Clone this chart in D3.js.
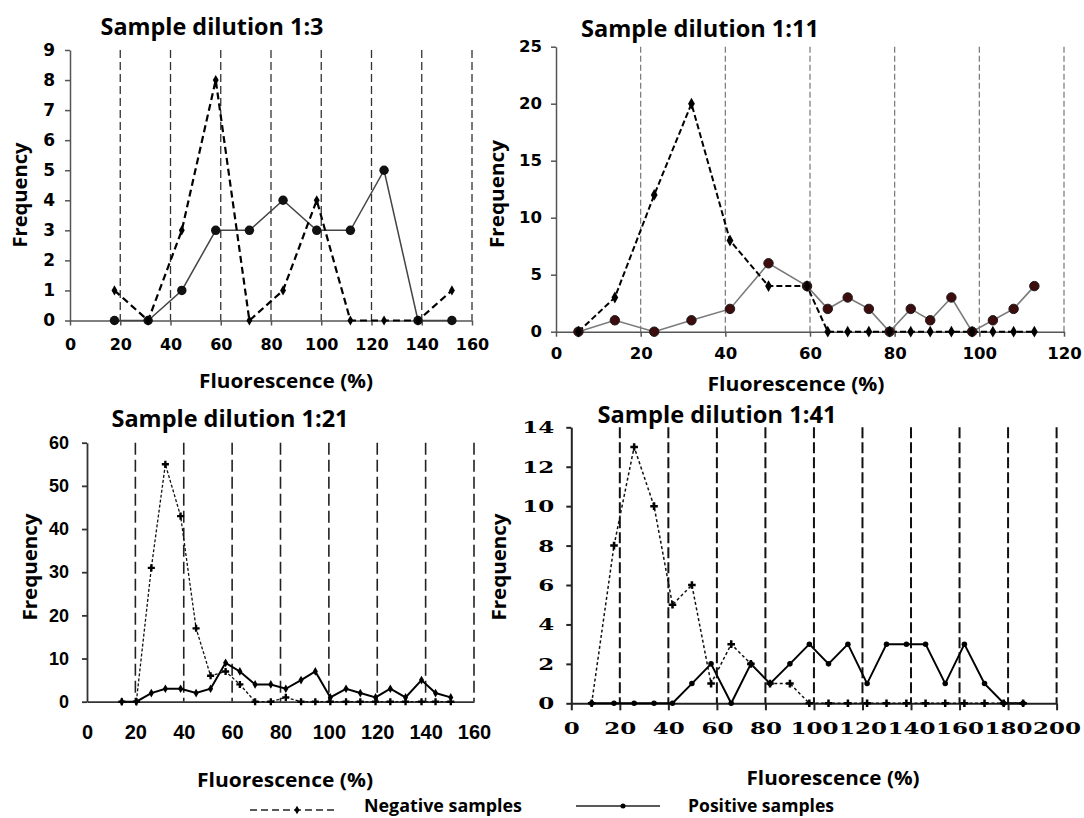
<!DOCTYPE html>
<html>
<head>
<meta charset="utf-8">
<script src="https://cdn.jsdelivr.net/npm/d3@7"></script>
<style>
  body { margin: 0; background: #fff; }
  svg { display: block; }
</style>
</head>
<body>
<div id="chart"></div>
<script>
// titles and labels
const TITLES = ["Sample dilution 1:3", "Sample dilution 1:11", "Sample dilution 1:21", "Sample dilution 1:41"];
const X_LABEL = "Fluorescence (%)";
const Y_LABEL = "Frequency";
const LEGEND_LABELS = ["Negative samples", "Positive samples"];

// dilution 1:3
const p1Bins = [17.7, 31.1, 44.5, 58, 71.4, 84.8, 98.2, 111.6, 125, 138.5, 152];
const p1Negative = [1, 0, 3, 8, 0, 1, 4, 0, 0, 0, 1];
const p1Positive = [0, 0, 1, 3, 3, 4, 3, 3, 5, 0, 0];

// dilution 1:11
const p2Bins = [5.3, 13.9, 23.2, 32, 41.1, 50.2, 59.3, 64.2, 68.9, 73.9, 78.8, 83.8, 88.4, 93.4, 98.3, 103.2, 108.1, 113];
const p2Negative = [0, 3, 12, 20, 8, 4, 4, 0, 0, 0, 0, 0, 0, 0, 0, 0, 0, 0];
const p2Positive = [0, 1, 0, 1, 2, 6, 4, 2, 3, 2, 0, 2, 1, 3, 0, 1, 2, 4];

// dilution 1:21
const p3Bins = [14.4, 20.4, 26.6, 32.4, 38.7, 45.1, 51.1, 57.3, 63.2, 69.5, 76, 82.2, 88.5, 94.4, 100.6, 107.1, 113, 119.3, 125.4, 131.7, 138.3, 144.1, 150.4];
const p3Negative = [0, 0, 31, 55, 43, 17, 6, 7, 4, 0, 0, 1, 0, 0, 0, 0, 0, 0, 0, 0, 0, 0, 0];
const p3Positive = [0, 0, 2, 3, 3, 2, 3, 9, 7, 4, 4, 3, 5, 7, 1, 3, 2, 1, 3, 1, 5, 2, 1];

// dilution 1:41
const p4Bins = [8.4, 17.6, 25.9, 34.1, 41.7, 49.7, 57.6, 65.9, 74, 81.9, 90.1, 98.1, 106, 114, 121.9, 129.9, 138.1, 146, 154.1, 162, 170.3, 178.2, 186.2];
const p4Negative = [0, 8, 13, 10, 5, 6, 1, 3, 2, 1, 1, 0, 0, 0, 0, 0, 0, 0, 0, 0, 0, 0, 0];
const p4Positive = [0, 0, 0, 0, 0, 1, 2, 0, 2, 1, 2, 3, 2, 3, 1, 3, 3, 3, 1, 3, 1, 0, 0];

// axis extents
const xMaxes = [160, 120, 160, 200];
const yMaxes = [9, 25, 60, 14];
const yTickSteps = [1, 5, 10, 2];

const WIDTH = 1084;
const HEIGHT = 818;
const LABEL_FONT = "'Open Sans', 'Noto Sans', sans-serif";

const panels = [
  {
    bins: p1Bins, neg: p1Negative, pos: p1Positive,
    xr: [70, 472], yr: [320.5, 50],
    title: [212, 35, 223], xLab: [286, 388, 174], yLab: [27, 195, 105],
    tick: { font: "'DejaVu Sans'", ySize: 17, xSize: 16, digitW: 0, yPad: 10, xPad: 13, xTick: 5 },
    axis: { stroke: "#555", width: 1.5 },
    grid: { stroke: "#333", width: 1.3, dash: "8,4" },
    negLine: { stroke: "#000", width: 2.2, dash: "7,4" },
    posLine: { stroke: "#444", width: 1.5 },
    negMark: { type: d3.symbolDiamond, size: 30, fill: "#000" },
    posMark: { type: d3.symbolCircle, size: 70, fill: "#111", stroke: "none" }
  },
  {
    bins: p2Bins, neg: p2Negative, pos: p2Positive,
    xr: [556, 1064], yr: [331.7, 46.7],
    title: [700, 37, 238], xLab: [796, 391, 177], yLab: [504, 194, 108],
    tick: { font: "'DejaVu Sans'", ySize: 15, xSize: 15, digitW: 11.5, yPad: 9, xPad: 12, xTick: 5 },
    axis: { stroke: "#555", width: 1.5 },
    grid: { stroke: "#777", width: 1.2, dash: "6,3" },
    negLine: { stroke: "#000", width: 2, dash: "6,3" },
    posLine: { stroke: "#7a7a7a", width: 1.6 },
    negMark: { type: d3.symbolDiamond, size: 40, fill: "#000" },
    posMark: { type: d3.symbolCircle, size: 70, fill: "#3d0c0c", stroke: "#1a1a1a" }
  },
  {
    bins: p3Bins, neg: p3Negative, pos: p3Positive,
    xr: [87, 474], yr: [701.7, 442.7],
    title: [230, 427, 237], xLab: [285, 787, 176], yLab: [37, 567, 107],
    tick: { font: "'Liberation Sans'", ySize: 18, xSize: 20, digitW: 0, yPad: 13, xPad: 23, xTick: 0 },
    axis: { stroke: "#333", width: 1.8 },
    grid: { stroke: "#222", width: 1.6, dash: "12,5" },
    negLine: { stroke: "#111", width: 1.3, dash: "3,2" },
    posLine: { stroke: "#000", width: 2 },
    negMark: { type: d3.symbolCross, size: 28, fill: "#000" },
    posMark: { type: d3.symbolDiamond, size: 22, fill: "#000", stroke: "none" }
  },
  {
    bins: p4Bins, neg: p4Negative, pos: p4Positive,
    xr: [571.3, 1056.6], yr: [703.3, 427.3],
    title: [717, 423, 239], xLab: [833, 785, 173], yLab: [506, 567, 107],
    tick: { font: "'DejaVu Serif'", ySize: 17, xSize: 17, digitW: 16, yPad: 12, xPad: 12, xTick: 7 },
    axis: { stroke: "#222", width: 2 },
    grid: { stroke: "#111", width: 2, dash: "11,4" },
    negLine: { stroke: "#111", width: 1.5, dash: "3,2.5" },
    posLine: { stroke: "#000", width: 2 },
    negMark: { type: d3.symbolCross, size: 32, fill: "#000" },
    posMark: { type: d3.symbolCircle, size: 24, fill: "#000", stroke: "none" }
  }
];

const svg = d3.select("#chart")
  .append("svg")
  .attr("width", WIDTH)
  .attr("height", HEIGHT)
  .style("font-family", LABEL_FONT);

function fitText(sel, len) {
  sel.attr("textLength", len).attr("lengthAdjust", "spacingAndGlyphs");
}

panels.forEach((p, i) => {
  const g = svg.append("g").attr("class", `panel-${i + 1}`);

  const x = d3.scaleLinear().domain([0, xMaxes[i]]).range(p.xr);
  const y = d3.scaleLinear().domain([0, yMaxes[i]]).range(p.yr);
  const xTicks = d3.range(0, xMaxes[i] + 1, 20);
  const yTicks = d3.range(0, yMaxes[i] + 1, yTickSteps[i]);

  // dashed bin boundaries
  g.append("g")
    .selectAll("line")
    .data(xTicks.slice(1))
    .join("line")
    .attr("x1", d => x(d))
    .attr("x2", d => x(d))
    .attr("y1", y(yMaxes[i]))
    .attr("y2", y(0))
    .attr("stroke", p.grid.stroke)
    .attr("stroke-width", p.grid.width)
    .attr("stroke-dasharray", p.grid.dash);

  // y axis
  const yAxis = g.append("g")
    .attr("transform", `translate(${p.xr[0]},0)`)
    .call(d3.axisLeft(y).tickValues(yTicks).tickSize(5).tickSizeOuter(0).tickPadding(p.tick.yPad));

  // x axis
  const xAxis = g.append("g")
    .attr("transform", `translate(0,${y(0)})`)
    .call(d3.axisBottom(x).tickValues(xTicks).tickSize(p.tick.xTick).tickSizeOuter(0).tickPadding(p.tick.xPad));

  [yAxis, xAxis].forEach(a => {
    a.select(".domain").attr("stroke", p.axis.stroke).attr("stroke-width", p.axis.width);
    a.selectAll(".tick line").attr("stroke", p.axis.stroke).attr("stroke-width", p.axis.width);
    const labels = a.selectAll("text")
      .attr("fill", "#000")
      .style("font-family", p.tick.font)
      .style("font-weight", "bold");
    // wide digit faces in some panels
    if (p.tick.digitW) {
      labels.each(function(d) {
        fitText(d3.select(this), String(d).length * p.tick.digitW);
      });
    }
  });
  yAxis.selectAll("text").style("font-size", `${p.tick.ySize}px`);
  xAxis.selectAll("text").style("font-size", `${p.tick.xSize}px`);

  // series
  const negPts = p.bins.map((b, k) => [b, p.neg[k]]);
  const posPts = p.bins.map((b, k) => [b, p.pos[k]]);
  const line = d3.line().x(d => x(d[0])).y(d => y(d[1]));

  g.append("path")
    .datum(posPts)
    .attr("d", line)
    .attr("fill", "none")
    .attr("stroke", p.posLine.stroke)
    .attr("stroke-width", p.posLine.width)
    .attr("stroke-linejoin", "miter");

  g.append("path")
    .datum(negPts)
    .attr("d", line)
    .attr("fill", "none")
    .attr("stroke", p.negLine.stroke)
    .attr("stroke-width", p.negLine.width)
    .attr("stroke-dasharray", p.negLine.dash);

  g.append("g")
    .selectAll("path")
    .data(posPts)
    .join("path")
    .attr("transform", d => `translate(${x(d[0])},${y(d[1])})`)
    .attr("d", d3.symbol().type(p.posMark.type).size(p.posMark.size))
    .attr("fill", p.posMark.fill)
    .attr("stroke", p.posMark.stroke)
    .attr("stroke-width", 1);

  g.append("g")
    .selectAll("path")
    .data(negPts)
    .join("path")
    .attr("transform", d => `translate(${x(d[0])},${y(d[1])})`)
    .attr("d", d3.symbol().type(p.negMark.type).size(p.negMark.size))
    .attr("fill", p.negMark.fill);

  // title and axis labels
  g.append("text")
    .attr("x", p.title[0])
    .attr("y", p.title[1])
    .attr("text-anchor", "middle")
    .style("font-size", "23px")
    .style("font-weight", "bold")
    .text(TITLES[i])
    .call(fitText, p.title[2]);

  g.append("text")
    .attr("x", p.xLab[0])
    .attr("y", p.xLab[1])
    .attr("text-anchor", "middle")
    .style("font-size", "20px")
    .style("font-weight", "bold")
    .text(X_LABEL)
    .call(fitText, p.xLab[2]);

  g.append("text")
    .attr("transform", `translate(${p.yLab[0]},${p.yLab[1]}) rotate(-90)`)
    .attr("text-anchor", "middle")
    .style("font-size", "20px")
    .style("font-weight", "bold")
    .text(Y_LABEL)
    .call(fitText, p.yLab[2]);
});

// legend
const legend = svg.append("g").attr("class", "legend");

legend.append("line")
  .attr("x1", 250).attr("x2", 335).attr("y1", 810).attr("y2", 810)
  .attr("stroke", "#222").attr("stroke-width", 1.5).attr("stroke-dasharray", "7,4");
legend.append("path")
  .attr("transform", "translate(297,810)")
  .attr("d", d3.symbol().type(d3.symbolDiamond).size(22))
  .attr("fill", "#000");
legend.append("text")
  .attr("x", 364).attr("y", 812)
  .style("font-size", "18px").style("font-weight", "bold")
  .text(LEGEND_LABELS[0])
  .call(fitText, 158);

legend.append("line")
  .attr("x1", 576).attr("x2", 660).attr("y1", 806).attr("y2", 806)
  .attr("stroke", "#222").attr("stroke-width", 1.5);
legend.append("path")
  .attr("transform", "translate(623,806)")
  .attr("d", d3.symbol().type(d3.symbolCircle).size(20))
  .attr("fill", "#000");
legend.append("text")
  .attr("x", 688).attr("y", 812)
  .style("font-size", "18px").style("font-weight", "bold")
  .text(LEGEND_LABELS[1])
  .call(fitText, 146);
</script>
</body>
</html>
